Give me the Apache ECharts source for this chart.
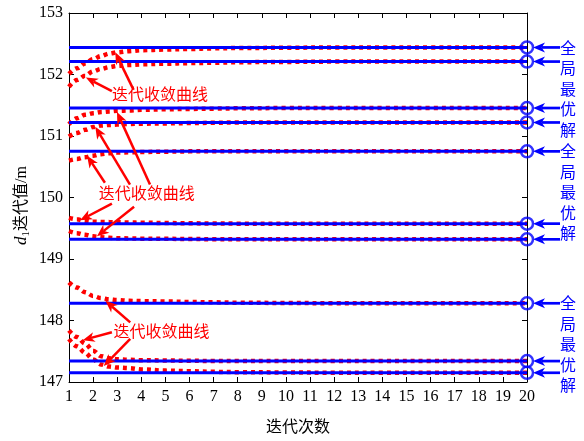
<!DOCTYPE html>
<html>
<head>
<meta charset="utf-8">
<script src="https://cdn.jsdelivr.net/npm/echarts@6/dist/echarts.min.js"></script>
<style>
html, body { margin: 0; padding: 0; background: #fff; }
#chart { width: 584px; height: 441px; }
</style>
</head>
<body>
<div id="chart"></div>
<script>
// Iteration index at which each convergence curve is sampled
const iterX = [1, 1.33, 1.67, 2, 2.33, 2.67, 3, 3.5, 4, 5, 6, 7, 8, 10, 12, 14, 16, 18, 20];

// Convergence curves of d1 (m), one per run
const curveA = [152.01, 152.10, 152.18, 152.25, 152.30, 152.34, 152.36, 152.38, 152.395, 152.405, 152.415, 152.425, 152.43, 152.435, 152.44, 152.44, 152.44, 152.44, 152.44];
const curveB = [151.80, 151.91, 151.98, 152.05, 152.09, 152.12, 152.14, 152.155, 152.165, 152.175, 152.185, 152.19, 152.20, 152.205, 152.21, 152.21, 152.21, 152.21, 152.21];
const curveC = [151.19, 151.29, 151.345, 151.37, 151.39, 151.40, 151.41, 151.415, 151.425, 151.435, 151.44, 151.445, 151.45, 151.455, 151.455, 151.455, 151.455, 151.455, 151.455];
const curveD = [150.99, 151.05, 151.10, 151.145, 151.17, 151.18, 151.185, 151.195, 151.20, 151.205, 151.21, 151.215, 151.22, 151.22, 151.22, 151.22, 151.22, 151.22, 151.22];
const curveE = [150.60, 150.625, 150.655, 150.68, 150.705, 150.72, 150.73, 150.735, 150.74, 150.745, 150.75, 150.75, 150.75, 150.75, 150.75, 150.75, 150.75, 150.75, 150.75];
const curveF = [149.67, 149.645, 149.618, 149.607, 149.603, 149.60, 149.597, 149.593, 149.59, 149.585, 149.58, 149.578, 149.575, 149.575, 149.575, 149.575, 149.575, 149.575, 149.575];
const curveG = [149.455, 149.42, 149.393, 149.368, 149.354, 149.345, 149.338, 149.334, 149.331, 149.328, 149.325, 149.322, 149.32, 149.32, 149.32, 149.32, 149.32, 149.32, 149.32];
const curveH = [148.62, 148.535, 148.46, 148.40, 148.365, 148.345, 148.333, 148.32, 148.315, 148.31, 148.30, 148.295, 148.29, 148.285, 148.28, 148.28, 148.28, 148.28, 148.28];
const curveI = [147.84, 147.73, 147.625, 147.51, 147.42, 147.385, 147.37, 147.36, 147.355, 147.35, 147.345, 147.342, 147.34, 147.34, 147.34, 147.34, 147.34, 147.34, 147.34];
const curveJ = [147.70, 147.58, 147.475, 147.365, 147.285, 147.25, 147.235, 147.225, 147.205, 147.185, 147.175, 147.165, 147.16, 147.155, 147.15, 147.15, 147.15, 147.15, 147.15];

// Global optimum of each run
const optimum = [152.44, 152.21, 151.455, 151.22, 150.75, 149.575, 149.32, 148.28, 147.34, 147.15];

// Text
const curveLabel = '迭代收敛曲线';
const optimumLabel = '全局最优解';
const xTitle = '迭代次数';

// Annotations in data units: [tailX, tailY, tipX, tipY]
const redArrows = [
  [3.68, 151.75, 2.92, 152.36],
  [2.78, 151.73, 1.70, 151.95],
  [4.36, 150.21, 2.99, 151.39],
  [3.53, 150.21, 2.09, 151.15],
  [2.49, 150.24, 1.75, 150.68],
  [2.78, 149.90, 1.46, 149.63],
  [3.70, 149.85, 2.16, 149.37],
  [3.54, 147.97, 2.51, 148.32],
  [2.78, 147.81, 1.57, 147.68],
  [3.54, 147.70, 2.44, 147.26]
];
// Left edge / vertical middle of each red label
const redLabelPos = [[2.78, 151.69], [2.23, 150.08], [2.85, 147.83]];
// Blue arrows: tail x, tip x (y taken from the optimum)
const blueArrowX = [21.37, 20.25];
// Vertical blue labels: centre x, value of the first character
const blueLabelPos = [[21.70, 152.44], [21.70, 150.75], [21.70, 148.28]];

const RED = '#ff0000';
const BLUE = '#0000ff';
const SERIF = '"Liberation Serif", "Times New Roman", serif';
const CJK = '"Liberation Serif", "Noto Sans CJK SC", sans-serif';

const chart = echarts.init(document.getElementById('chart'), null, { renderer: 'canvas' });

const curves = [curveA, curveB, curveC, curveD, curveE, curveF, curveG, curveH, curveI, curveJ];

const series = [];
curves.forEach(function (c, i) {
  series.push({
    type: 'line',
    name: 'curve' + i,
    data: iterX.map(function (x, k) { return [x, c[k]]; }),
    showSymbol: false,
    smooth: 0.35,
    smoothMonotone: 'x',
    lineStyle: { color: RED, width: 4.5, type: [4, 4], cap: 'butt' },
    z: 2,
    silent: true
  });
});
optimum.forEach(function (v, i) {
  series.push({
    type: 'line',
    name: 'opt' + i,
    data: [[iterX[0], v], [iterX[iterX.length - 1], v]],
    showSymbol: false,
    lineStyle: { color: BLUE, width: 3 },
    z: 3,
    silent: true
  });
});
series.push({
  type: 'scatter',
  name: 'final',
  data: optimum.map(function (v) { return [iterX[iterX.length - 1], v]; }),
  symbol: 'circle',
  symbolSize: 12,
  itemStyle: { color: 'rgba(0,0,0,0)', borderColor: BLUE, borderWidth: 2.5 },
  clip: false,
  z: 4,
  silent: true
});

const axisCommon = {
  type: 'value',
  axisLine: { show: true, onZero: false, lineStyle: { color: '#000', width: 1 } },
  axisTick: { show: true, inside: true, length: 5, lineStyle: { color: '#000', width: 1 } },
  splitLine: { show: false }
};

chart.setOption({
  animation: false,
  backgroundColor: '#fff',
  grid: { left: 69, right: 57, top: 13, bottom: 58, containLabel: false },
  xAxis: [
    Object.assign({}, axisCommon, {
      min: 1, max: 20, interval: 1, position: 'bottom',
      axisLabel: { color: '#000', fontFamily: SERIF, fontSize: 16, margin: 7 },
      name: xTitle, nameLocation: 'middle', nameGap: 38,
      nameTextStyle: { color: '#000', fontFamily: CJK, fontSize: 16 }
    }),
    Object.assign({}, axisCommon, {
      min: 1, max: 20, interval: 1, position: 'top',
      axisLabel: { show: false }
    })
  ],
  yAxis: [
    Object.assign({}, axisCommon, {
      min: 147, max: 153, interval: 1, position: 'left',
      axisLabel: { color: '#000', fontFamily: SERIF, fontSize: 16, margin: 6 },
      name: '{i|d}{s|1}迭代值/m', nameLocation: 'middle', nameGap: 37, nameRotate: 90,
      nameMoveOverlap: false,
      nameTextStyle: {
        color: '#000', fontFamily: CJK, fontSize: 16, padding: [0, 16, 0, 0],
        rich: {
          i: { fontFamily: SERIF, fontStyle: 'italic', fontSize: 17, color: '#000' },
          s: { fontFamily: SERIF, fontSize: 11, color: '#000', padding: [9, 0, 0, 0] }
        }
      }
    }),
    Object.assign({}, axisCommon, {
      min: 147, max: 153, interval: 1, position: 'right',
      axisLabel: { show: false }
    })
  ],
  series: series
});

function toPx(p) {
  return chart.convertToPixel({ xAxisIndex: 0, yAxisIndex: 0 }, p);
}

function arrow(tail, tip, color, lw, headLen, headHalf) {
  const a = toPx(tail), b = toPx(tip);
  const dx = b[0] - a[0], dy = b[1] - a[1];
  const L = Math.hypot(dx, dy);
  const ux = dx / L, uy = dy / L, nx = -uy, ny = ux;
  const base = [b[0] - ux * headLen, b[1] - uy * headLen];
  const notch = [b[0] - ux * headLen * 0.72, b[1] - uy * headLen * 0.72];
  return [
    { type: 'line', silent: true, z: 10,
      shape: { x1: a[0], y1: a[1], x2: notch[0], y2: notch[1] },
      style: { stroke: color, lineWidth: lw } },
    { type: 'polygon', silent: true, z: 10,
      shape: { points: [b, [base[0] + nx * headHalf, base[1] + ny * headHalf], notch, [base[0] - nx * headHalf, base[1] - ny * headHalf]] },
      style: { fill: color } }
  ];
}

const elements = [];
redArrows.forEach(function (r) {
  elements.push.apply(elements, arrow([r[0], r[1]], [r[2], r[3]], RED, 2.5, 12, 5));
});
redLabelPos.forEach(function (p) {
  const q = toPx(p);
  elements.push({
    type: 'text', silent: true, z: 10, x: q[0], y: q[1],
    style: { text: curveLabel, fill: RED, fontSize: 16, fontFamily: '"Noto Sans CJK SC", sans-serif', align: 'left', verticalAlign: 'middle' }
  });
});
optimum.forEach(function (v) {
  elements.push.apply(elements, arrow([blueArrowX[0], v], [blueArrowX[1], v], BLUE, 2.7, 12, 5));
});
const lineGap = 20.5;
blueLabelPos.forEach(function (p) {
  const q = toPx(p);
  elements.push({
    type: 'text', silent: true, z: 10, x: q[0], y: q[1] - lineGap / 2,
    style: { text: optimumLabel.split('').join('\n'), fill: BLUE, fontSize: 16, lineHeight: lineGap,
             fontFamily: '"Noto Sans CJK SC", sans-serif', align: 'center', verticalAlign: 'top' }
  });
});

chart.setOption({ graphic: { elements: elements } });
</script>
</body>
</html>
